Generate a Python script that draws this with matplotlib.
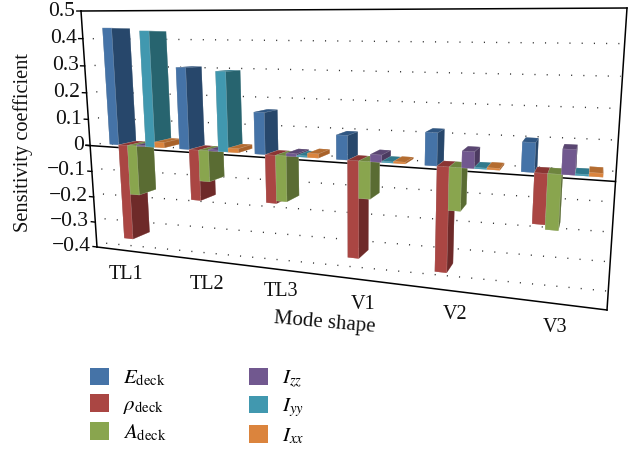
import numpy as np
import matplotlib
matplotlib.use("Agg")
import matplotlib.pyplot as plt
from matplotlib.patches import Patch
from mpl_toolkits.mplot3d import proj3d

categories = ["TL1", "TL2", "TL3", "V1", "V2", "V3"]
series_labels = [r"$E_{\mathrm{deck}}$", r"$\rho_{\mathrm{deck}}$", r"$A_{\mathrm{deck}}$",
                 r"$I_{zz}$", r"$I_{yy}$", r"$I_{xx}$"]
E_deck = [0.44, 0.30, 0.15, 0.085, 0.11, 0.095]
rho_deck = [-0.37, -0.19, -0.175, -0.345, -0.36, -0.165]
A_deck = [-0.19, -0.115, -0.165, -0.13, -0.145, -0.18]
I_zz = [0.004, 0.005, 0.01, 0.025, 0.055, 0.08]
I_yy = [0.43, 0.29, 0.005, 0.004, 0.004, 0.005]
I_xx = [0.02, 0.015, 0.015, 0.006, 0.006, 0.012]
all_series = [E_deck, rho_deck, A_deck, I_zz, I_yy, I_xx]
y_ticks = [0.5, 0.4, 0.3, 0.2, 0.1, 0, -0.1, -0.2, -0.3, -0.4]
y_tick_labels = ["0.5", "0.4", "0.3", "0.2", "0.1", "0", "\u22120.1", "\u22120.2", "\u22120.3", "\u22120.4"]

front = ["#4573A7", "#AA4643", "#89A54E", "#71588F", "#4198AF", "#DB843D"]
side = ["#27476B", "#6E2A29", "#5A6C33", "#4B3A60", "#27646F", "#A9622A"]
topc = ["#2F5682", "#8A3533", "#6E853E", "#5A4672", "#30798C", "#B46C30"]

plt.rcParams["font.family"] = ["Liberation Serif", "DejaVu Serif"]
plt.rcParams["mathtext.fontset"] = "stix"

W, H_ = 634, 450
fig = plt.figure(figsize=(W / 100, H_ / 100), dpi=100)
ax = fig.add_axes([0, (H_ - W) / 2 / H_, 1, W / H_], projection="3d", computed_zorder=False)
ax.set_axis_off()
ax.patch.set_alpha(0)
ax.set_xticks([])
ax.set_yticks([])
ax.set_zticks([])

XMIN, XMAX, YMIN, YMAX = 0.0, 6.0, -0.4, 0.5


def homography(src, dst):
    A, b = [], []
    for (x, y), (u, v) in zip(src, dst):
        A.append([x, y, 1, 0, 0, 0, -u * x, -u * y]); b.append(u)
        A.append([0, 0, 0, x, y, 1, -v * x, -v * y]); b.append(v)
    h = np.linalg.solve(np.array(A, float), np.array(b, float))
    return np.array([[h[0], h[1], h[2]], [h[3], h[4], h[5]], [h[6], h[7], 1.0]])


Hm = homography([(XMIN, YMAX), (XMIN, YMIN), (XMAX, YMAX), (XMAX, YMIN)],
                [(81, 11), (97, 247), (627, 8), (607, 310)])
Hm = Hm / (Hm[2] @ np.array([0, 0, 1]))
K = 0.038
VP = np.array([600.0, 40.0, 1.0])
P = np.column_stack([Hm[:, 0], K * VP, Hm[:, 1], Hm[:, 2]])  # columns: x, depth, value, 1


def get_proj():
    vl = ax.viewLim
    sx = (vl.x1 - vl.x0) / W
    sy = (vl.y1 - vl.y0) / W
    y_off = (W - H_) / 2
    A = np.array([[sx, 0, vl.x0],
                  [0, -sy, vl.y0 + (H_ + y_off) * sy],
                  [0, 0, 1]])
    Q = A @ P
    return np.array([Q[0], Q[1], [0, 0, 0, -1.0], Q[2]])


ax.get_proj = get_proj


def label_at(x, depth, value, text, **kw):
    """Place a flat text at the projected position of a point of the 3D chart."""
    tx, ty, _ = proj3d.proj_transform(x, depth, value, get_proj())
    ax.text2D(tx, ty, text, transform=ax.transData, clip_on=False, **kw)


Z0, Z1 = 0.5, 1.5
CAT_START, CAT_STEP, BAR_W = 0.15, 0.992, 0.13

# bars
for i in range(len(categories)):
    for j, s in enumerate(all_series):
        x = CAT_START + CAT_STEP * i + j * BAR_W
        v = s[i]
        cols = [topc[j], topc[j], front[j], side[j], side[j], side[j]]
        c = ax.bar3d([x], [Z0], [0], [BAR_W], [Z1 - Z0], [v], color=cols, shade=False,
                     linewidth=0.35, edgecolor="#FFFFFF40")
        c.set_zorder(10 + i * 6 + j)

# frame
fr = dict(color="black", lw=1.1, zorder=5, solid_capstyle="projecting")
ax.plot([XMIN, XMAX], [0, 0], [YMAX, YMAX], **fr)
ax.plot([XMIN, XMAX], [0, 0], [YMIN, YMIN], **fr)
ax.plot([XMIN, XMIN], [0, 0], [YMIN, YMAX], **fr)
ax.plot([XMAX, XMAX], [0, 0], [YMIN, YMAX], **fr)
ax.plot([XMIN - 0.06, XMAX], [0, 0], [0, 0], **fr)

for v, lab in zip(y_ticks, y_tick_labels):
    ax.plot([XMIN - 0.06, XMIN], [0, 0], [v, v], color="black", lw=1, zorder=5)
    label_at(XMIN - 0.09, 0, v, lab, ha="right", va="center", fontsize=15.5, color="#111111")
    if v < 0.5:
        ax.plot([XMIN, XMAX], [0.5, 1.6], [v, v], color="#333333", lw=1.0,
                linestyle=(0, (0.8, 8.0)), zorder=2)

# category labels
label_dx = [0.26, 0.40, 0.376, 0.364, 0.392, 0.41]
label_dv = [0.097, 0.093, 0.08, 0.087, 0.08, 0.08]
for i, c in enumerate(categories):
    label_at(CAT_START + CAT_STEP * i + label_dx[i], 0, YMIN - label_dv[i], c, ha="center", va="center",
             fontsize=14.5, color="#111111")

fig.text(23 / W, 1 - 142 / H_, "Sensitivity coefficient", rotation=90, ha="center", va="center",
         fontsize=14.7, color="#111111")
fig.text(325 / W, 1 - 323 / H_, "Mode shape", rotation=-5, ha="center", va="center",
         fontsize=15, color="#111111")

handles = [Patch(facecolor=c, edgecolor="none") for c in front]
leg = fig.legend(handles, series_labels, ncol=2, loc="upper left",
                 bbox_to_anchor=(73 / W, 1 - 351 / H_), frameon=False, fontsize=15,
                 handlelength=0.92, handleheight=0.92, labelspacing=0.28,
                 handletextpad=0.68, columnspacing=3.96, borderpad=0.3)

fig.savefig("out.png", dpi=100)
